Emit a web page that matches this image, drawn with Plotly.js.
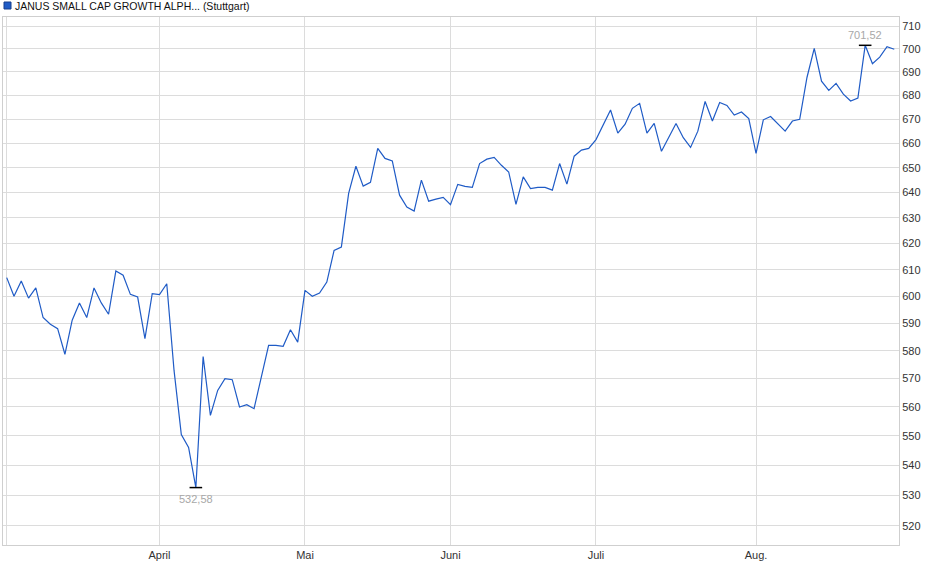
<!DOCTYPE html>
<html>
<head>
<meta charset="utf-8">
<script src="https://cdn.plot.ly/plotly-3.0.1.min.js"></script>
<style>
  html, body { margin: 0; padding: 0; background: #ffffff; }
  #chart { width: 940px; height: 579px; }
</style>
</head>
<body>
<div id="chart"></div>
<script>
// Handelstage je Monat (2025)
var marDays = [3, 4, 5, 6, 7, 10, 11, 12, 13, 14, 17, 18, 19, 20, 21, 24, 25, 26, 27, 28, 31];
var aprDays = [1, 2, 3, 4, 7, 8, 9, 10, 11, 14, 15, 16, 17, 22, 23, 24, 25, 28, 29, 30];
var mayDays = [2, 5, 6, 7, 8, 9, 12, 13, 14, 15, 16, 19, 20, 21, 22, 23, 26, 27, 28, 30];
var junDays = [2, 3, 4, 5, 6, 10, 11, 12, 13, 16, 17, 18, 19, 20, 23, 24, 25, 26, 27, 30];
var julDays = [1, 2, 3, 4, 7, 8, 9, 10, 11, 14, 15, 16, 17, 18, 21, 22, 23, 24, 25, 28, 29, 30];
var augDays = [1, 4, 5, 6, 7, 8, 11, 12, 13, 14, 15, 18, 19, 20, 21, 22, 25, 26, 27, 28];

// Kurse (Stuttgart)
var marValues = [607.0, 600.0, 605.7, 599.3, 603.1, 592.1, 589.6, 588.0, 578.7, 591.1, 597.5,
                 592.1, 603.1, 597.5, 593.3, 609.5, 607.9, 600.7, 599.7, 584.4, 601.0];
var aprValues = [600.6, 604.7, 572.9, 550.5, 546.1, 532.58, 577.9, 557.1, 565.8, 570.0,
                 569.6, 560.0, 560.8, 559.4, 570.5, 581.9, 581.9, 581.6, 587.6, 583.1];
var mayValues = [602.2, 600.0, 601.2, 605.3, 617.4, 618.7, 639.7, 650.6, 642.6, 644.1,
                 657.9, 653.8, 652.8, 639.0, 634.3, 632.7, 645.0, 636.6, 637.4, 638.1];
var junValues = [635.2, 643.3, 642.5, 642.1, 651.7, 653.5, 654.2, 651.0, 648.3, 635.3,
                 646.3, 641.6, 642.1, 642.1, 641.0, 651.7, 643.4, 654.7, 657.2, 657.9];
var julValues = [661.5, 667.9, 673.8, 664.2, 667.9, 674.5, 676.6, 664.2, 668.2, 656.7, 662.3,
                 668.2, 662.3, 658.3, 665.0, 677.4, 669.2, 677.0, 675.7, 671.7, 673.0, 670.2];
var augValues = [655.8, 669.7, 671.1, 667.9, 665.0, 669.2, 669.9, 687.6, 700.2, 686.0,
                 682.1, 685.1, 680.5, 677.6, 678.8, 701.52, 693.5, 696.4, 700.9, 699.8];

var monthNames = ['', 'April', 'Mai', 'Juni', 'Juli', 'Aug.'];
var yTicks = [520, 530, 540, 550, 560, 570, 580, 590, 600, 610,
              620, 630, 640, 650, 660, 670, 680, 690, 700, 710];

var seriesName = 'JANUS SMALL CAP GROWTH ALPH... (Stuttgart)';

function pad(n) { return n < 10 ? '0' + n : '' + n; }

var months = [
    { m: 3, days: marDays, vals: marValues },
    { m: 4, days: aprDays, vals: aprValues },
    { m: 5, days: mayDays, vals: mayValues },
    { m: 6, days: junDays, vals: junValues },
    { m: 7, days: julDays, vals: julValues },
    { m: 8, days: augDays, vals: augValues }
];

var dates = [];
var prices = [];
var monthStarts = [];
months.forEach(function(mo) {
    mo.days.forEach(function(d, i) {
        var s = '2025-' + pad(mo.m) + '-' + pad(d);
        if (i === 0) monthStarts.push(s);
        dates.push(s);
        prices.push(mo.vals[i]);
    });
});

// Tief / Hoch
var iMin = 0, iMax = 0;
prices.forEach(function(p, i) {
    if (p < prices[iMin]) iMin = i;
    if (p > prices[iMax]) iMax = i;
});
function fmt(v) { return v.toFixed(2).replace('.', ','); }

var lineColor = '#1f5bc6';
var gridColor = '#dcdcdc';

var traceLine = {
    x: dates,
    y: prices,
    type: 'scatter',
    mode: 'lines',
    line: { color: lineColor, width: 1.2 },
    hoverinfo: 'skip'
};
var traceExtremes = {
    x: [dates[iMin], dates[iMax]],
    y: [prices[iMin], prices[iMax]],
    type: 'scatter',
    mode: 'markers',
    marker: { symbol: 'line-ew', size: 9, line: { width: 1.5, color: '#000000' } },
    hoverinfo: 'skip'
};

var layout = {
    width: 940,
    height: 579,
    margin: { t: 17, r: 41, l: 3, b: 34 },
    paper_bgcolor: '#ffffff',
    plot_bgcolor: '#ffffff',
    showlegend: false,
    hovermode: false,
    font: { family: 'Liberation Sans, Arial, sans-serif', size: 11, color: '#333333' },
    xaxis: {
        type: 'category',
        range: [-0.51, dates.length - 1 + 0.65],
        tickvals: monthStarts,
        ticktext: monthNames,
        showgrid: true,
        gridcolor: gridColor,
        gridwidth: 1,
        showline: true,
        linecolor: '#cfcfcf',
        mirror: true,
        ticks: '',
        zeroline: false,
        fixedrange: true
    },
    yaxis: {
        type: 'log',
        side: 'right',
        range: [2.71085, 2.8537],
        tickvals: yTicks,
        ticktext: yTicks.map(String),
        showgrid: true,
        gridcolor: gridColor,
        gridwidth: 1,
        showline: true,
        linecolor: '#cfcfcf',
        mirror: true,
        ticks: '',
        zeroline: false,
        fixedrange: true
    },
    shapes: [
        {
            type: 'rect',
            xref: 'paper', yref: 'paper',
            xsizemode: 'pixel', ysizemode: 'pixel',
            xanchor: 0, yanchor: 1,
            x0: 1, x1: 8, y0: 8, y1: 15,
            fillcolor: lineColor,
            line: { color: '#163f8c', width: 1 }
        }
    ],
    annotations: [
        {
            xref: 'paper', yref: 'paper',
            x: 0, y: 1,
            xanchor: 'left', yanchor: 'bottom',
            xshift: 10, yshift: 3,
            text: seriesName,
            showarrow: false,
            font: { size: 10.5, color: '#111111' }
        },
        {
            x: dates[iMin], y: Math.log10(prices[iMin]),
            yanchor: 'top', yshift: -3,
            text: fmt(prices[iMin]),
            showarrow: false,
            font: { size: 11, color: '#a8a8a8' }
        },
        {
            x: dates[iMax], y: Math.log10(prices[iMax]),
            yanchor: 'bottom', yshift: 2,
            text: fmt(prices[iMax]),
            showarrow: false,
            font: { size: 11, color: '#a8a8a8' }
        }
    ]
};

Plotly.newPlot('chart', [traceLine, traceExtremes], layout, { displayModeBar: false, staticPlot: true });
</script>
</body>
</html>
